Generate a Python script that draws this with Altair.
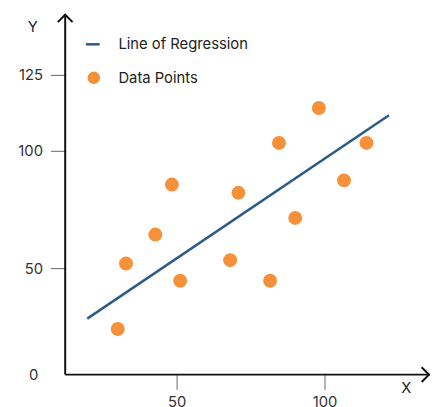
import altair as alt
import pandas as pd

# Data points
xs = [30.1, 32.9, 42.8, 48.4, 51.2, 68.1, 70.9, 81.6, 90.1, 84.6, 98.1, 106.6, 114.2]
ys = [21.4, 52.0, 64.3, 85.6, 44.1, 53.4, 82.1, 44.1, 71.4, 102.6, 114.1, 87.4, 102.6]

# Regression line endpoints
line_x = [19.8, 121.8]
line_y = [26.3, 111.7]

x_ticks = [50, 100]
y_ticks = [50, 100, 125]

BLUE = "#2d5b87"
ORANGE = "#f5913a"
FONT = "Inter"

W, H = 370, 365

pts = pd.DataFrame({"x": xs, "y": ys})
reg = pd.DataFrame({"x": line_x, "y": line_y})

xscale = alt.Scale(domain=[50, 100], range=[113, 263], zero=False, nice=False)
yscale = alt.Scale(domain=[0, 50, 100, 125], range=[365, 257, 138, 61], zero=False, nice=False)

xaxis = alt.Axis(values=x_ticks, domain=False, grid=False, tickSize=15, tickColor="#666",
                 labelPadding=5, labelFontSize=15, labelColor="#333", labelFont=FONT,
                 labelFlush=False, labelOverlap=False, title=None)
yaxis = alt.Axis(values=y_ticks, domain=False, grid=False, tickSize=15, tickColor="#666",
                 labelPadding=8, labelFontSize=15, labelColor="#333", labelFont=FONT,
                 labelFlush=False, labelOverlap=False, title=None)

X = alt.X("x:Q", scale=xscale, axis=xaxis)
Y = alt.Y("y:Q", scale=yscale, axis=yaxis)

one = alt.Data(values=[{}])

points = alt.Chart(pts).mark_circle(size=200, color=ORANGE, opacity=1).encode(x=X, y=Y)
regline = alt.Chart(reg).mark_line(color=BLUE, strokeWidth=2.5).encode(x=X, y=Y)

yline = alt.Chart(one).mark_rule(color="#111", strokeWidth=2).encode(
    x=alt.value(0), y=alt.value(0), y2=alt.value(H))
xline = alt.Chart(one).mark_rule(color="#111", strokeWidth=2).encode(
    x=alt.value(0), x2=alt.value(W), y=alt.value(H))

yarrow = alt.Chart(one).mark_point(shape="M-1,1L0,0L1,1", size=225, filled=False,
                                   color="#111", strokeWidth=2, opacity=1).encode(
    x=alt.value(0), y=alt.value(0))
xarrow = alt.Chart(one).mark_point(shape="M-1,-1L0,0L-1,1", size=225, filled=False,
                                   color="#111", strokeWidth=2, opacity=1).encode(
    x=alt.value(W - 1), y=alt.value(H))

ytitle = alt.Chart(one).mark_text(text="Y", fontSize=15, font=FONT, color="#222").encode(
    x=alt.value(-33), y=alt.value(13))
xtitle = alt.Chart(one).mark_text(text="X", fontSize=15, font=FONT, color="#222").encode(
    x=alt.value(346), y=alt.value(379))
zero = alt.Chart(one).mark_text(text="0", fontSize=15, font=FONT, color="#333").encode(
    x=alt.value(-32), y=alt.value(H))

leg_line = alt.Chart(one).mark_rule(color=BLUE, strokeWidth=2.5).encode(
    x=alt.value(21), x2=alt.value(35), y=alt.value(30))
leg_pt = alt.Chart(one).mark_circle(size=160, color=ORANGE, opacity=1).encode(
    x=alt.value(29), y=alt.value(64))
leg_t1 = alt.Chart(one).mark_text(text="Line of Regression", fontSize=15, font=FONT,
                                  color="#222", align="left", baseline="middle").encode(
    x=alt.value(54), y=alt.value(30))
leg_t2 = alt.Chart(one).mark_text(text="Data Points", fontSize=15, font=FONT,
                                  color="#222", align="left", baseline="middle").encode(
    x=alt.value(54), y=alt.value(64))

chart = alt.layer(
    regline, points, yline, xline, yarrow, xarrow, ytitle, xtitle, zero,
    leg_line, leg_pt, leg_t1, leg_t2
).properties(
    width=W, height=H,
    autosize=alt.AutoSizeParams(type="none"),
    padding={"left": 58, "top": 4, "right": 0, "bottom": 30},
    background="white",
).configure_view(stroke=None)

chart.save("out.html", embed_options={"renderer": "svg", "actions": False})
